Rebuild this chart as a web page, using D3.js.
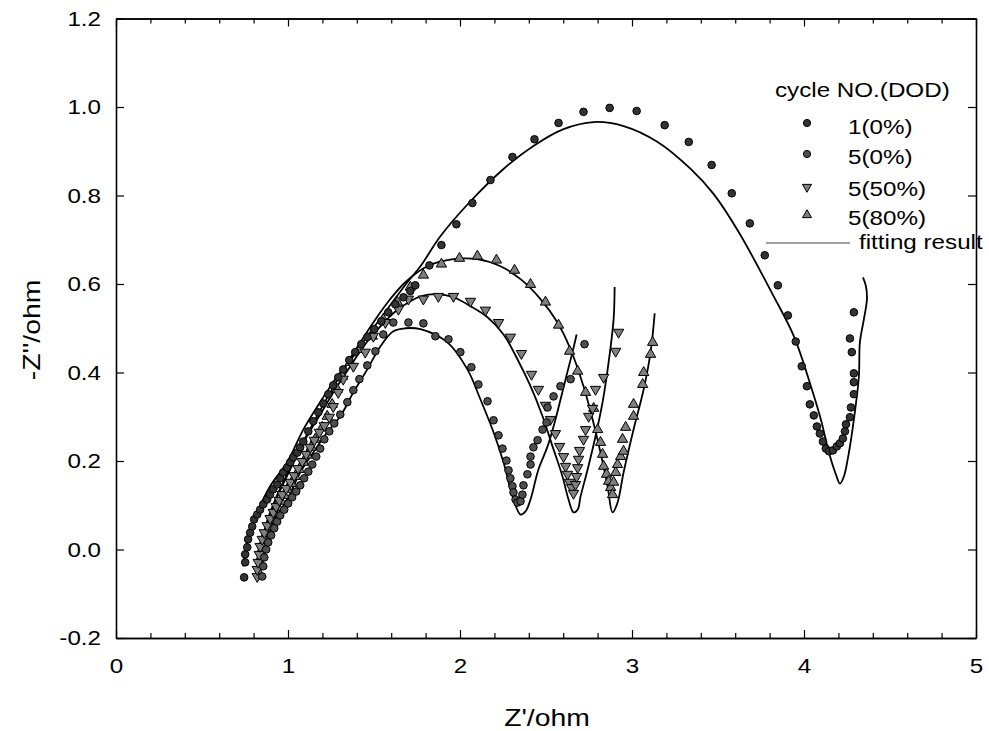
<!DOCTYPE html>
<html><head><meta charset="utf-8">
<script src="https://cdn.jsdelivr.net/npm/d3@7"></script>
<style>body{margin:0;background:#fff} text{font-family:"Liberation Sans",Arial,Helvetica,sans-serif;font-size:20.5px;fill:#000}</style>
</head><body><svg id="c" width="989" height="731"></svg>
<script>
// ---------- data ----------
const xTickValues = [0, 1, 2, 3, 4, 5];
const yTickValues = [-0.2, 0.0, 0.2, 0.4, 0.6, 0.8, 1.0, 1.2];
const xTickLabels = ["0", "1", "2", "3", "4", "5"];
const yTickLabels = ["-0.2", "0.0", "0.2", "0.4", "0.6", "0.8", "1.0", "1.2"];
const seriesNames = ["1(0%)", "5(0%)", "5(50%)", "5(80%)"];

const c1_0 = [[0.745,-0.063],[0.751,-0.029],[0.751,-0.011],[0.763,0.005],[0.768,0.023],[0.780,0.038],[0.792,0.052],[0.803,0.068],[0.821,0.079],[0.838,0.090],[0.856,0.102],[0.879,0.113],[0.896,0.124],[0.914,0.136],[0.937,0.147],[0.955,0.161],[0.972,0.174],[0.995,0.185],[1.013,0.197],[1.030,0.208],[1.054,0.219],[1.071,0.231],[1.089,0.244],[1.118,0.267],[1.147,0.290],[1.176,0.310],[1.205,0.330],[1.234,0.351],[1.263,0.371],[1.292,0.389],[1.321,0.407],[1.356,0.428],[1.391,0.446],[1.426,0.464],[1.461,0.480],[1.502,0.498],[1.543,0.516],[1.583,0.536],[1.624,0.554],[1.671,0.570],[1.711,0.584],[1.740,0.597],[1.822,0.642],[1.892,0.688],[1.979,0.735],[2.072,0.783],[2.177,0.835],[2.305,0.887],[2.433,0.927],[2.573,0.964],[2.718,0.989],[2.870,0.998],[3.027,0.991],[3.190,0.959],[3.330,0.921],[3.463,0.869],[3.580,0.805],[3.685,0.737],[3.772,0.665],[3.848,0.597],[3.906,0.529],[3.952,0.470],[3.987,0.414],[4.017,0.369],[4.034,0.328],[4.057,0.303],[4.075,0.278],[4.092,0.262],[4.110,0.244],[4.127,0.228],[4.145,0.222],[4.168,0.224],[4.191,0.233],[4.209,0.240],[4.226,0.251],[4.238,0.267],[4.244,0.283],[4.267,0.299],[4.273,0.321],[4.290,0.351],[4.290,0.378],[4.290,0.398],[4.278,0.446],[4.267,0.477],[4.290,0.536]];

const c5_0 = [[0.850,-0.061],[0.856,-0.038],[0.862,-0.018],[0.873,0.000],[0.885,0.016],[0.902,0.032],[0.920,0.048],[0.937,0.063],[0.955,0.077],[0.978,0.090],[1.001,0.104],[1.024,0.118],[1.048,0.131],[1.071,0.145],[1.094,0.161],[1.118,0.176],[1.141,0.192],[1.164,0.210],[1.187,0.228],[1.211,0.249],[1.240,0.267],[1.269,0.285],[1.304,0.305],[1.345,0.333],[1.380,0.360],[1.415,0.385],[1.461,0.416],[1.508,0.448],[1.554,0.486],[1.612,0.513],[1.700,0.513],[1.787,0.511],[1.857,0.482],[1.933,0.475],[2.002,0.446],[2.066,0.412],[2.107,0.373],[2.160,0.335],[2.195,0.292],[2.224,0.258],[2.247,0.228],[2.270,0.201],[2.282,0.179],[2.293,0.161],[2.305,0.143],[2.311,0.129],[2.323,0.113],[2.334,0.106],[2.352,0.109],[2.363,0.124],[2.369,0.145],[2.392,0.170],[2.410,0.192],[2.410,0.210],[2.427,0.231],[2.451,0.247],[2.480,0.271],[2.503,0.287],[2.509,0.321],[2.544,0.346],[2.584,0.369],[2.643,0.385],[2.724,0.464]];

const c5_50 = [[0.821,-0.061],[0.821,-0.045],[0.827,-0.029],[0.833,-0.011],[0.838,0.007],[0.850,0.023],[0.862,0.038],[0.879,0.054],[0.896,0.070],[0.914,0.084],[0.931,0.097],[0.949,0.111],[0.966,0.124],[0.990,0.138],[1.013,0.152],[1.036,0.167],[1.059,0.183],[1.083,0.199],[1.106,0.215],[1.129,0.231],[1.153,0.247],[1.182,0.265],[1.211,0.280],[1.240,0.299],[1.263,0.323],[1.292,0.355],[1.321,0.385],[1.380,0.414],[1.449,0.446],[1.496,0.482],[1.566,0.513],[1.642,0.543],[1.700,0.566],[1.787,0.566],[1.874,0.572],[1.962,0.572],[2.061,0.561],[2.148,0.541],[2.224,0.513],[2.293,0.480],[2.357,0.443],[2.416,0.396],[2.456,0.362],[2.497,0.326],[2.526,0.294],[2.555,0.262],[2.579,0.233],[2.602,0.210],[2.614,0.188],[2.625,0.170],[2.637,0.152],[2.649,0.140],[2.660,0.127],[2.672,0.147],[2.678,0.165],[2.684,0.185],[2.689,0.204],[2.695,0.224],[2.718,0.249],[2.730,0.271],[2.748,0.301],[2.771,0.319],[2.788,0.362],[2.835,0.389],[2.905,0.448],[2.922,0.491]];

const c5_80 = [[0.838,-0.057],[0.838,-0.036],[0.844,-0.016],[0.850,0.002],[0.862,0.020],[0.873,0.036],[0.891,0.052],[0.908,0.068],[0.926,0.081],[0.943,0.095],[0.960,0.109],[0.978,0.122],[0.995,0.136],[1.019,0.149],[1.042,0.165],[1.065,0.181],[1.089,0.197],[1.112,0.213],[1.135,0.231],[1.158,0.249],[1.199,0.276],[1.228,0.301],[1.257,0.328],[1.286,0.362],[1.316,0.391],[1.362,0.423],[1.420,0.452],[1.490,0.482],[1.554,0.520],[1.636,0.559],[1.711,0.593],[1.787,0.620],[1.892,0.645],[1.997,0.658],[2.101,0.663],[2.212,0.654],[2.317,0.631],[2.410,0.599],[2.497,0.559],[2.573,0.507],[2.637,0.448],[2.684,0.403],[2.730,0.355],[2.777,0.319],[2.800,0.271],[2.817,0.242],[2.829,0.215],[2.835,0.188],[2.852,0.170],[2.864,0.154],[2.876,0.140],[2.887,0.124],[2.893,0.152],[2.905,0.174],[2.916,0.192],[2.934,0.210],[2.951,0.222],[2.945,0.249],[2.963,0.276],[3.009,0.301],[3.009,0.328],[3.062,0.373],[3.068,0.400],[3.108,0.441],[3.120,0.468]];

const fit1_0 = [[0.739,-0.038],[0.751,-0.007],[0.768,0.029],[0.821,0.084],[0.896,0.143],[0.995,0.197],[1.089,0.271],[1.187,0.333],[1.286,0.391],[1.380,0.437],[1.461,0.482],[1.577,0.543],[1.694,0.604],[1.770,0.640],[1.886,0.708],[2.061,0.787],[2.253,0.860],[2.427,0.912],[2.602,0.950],[2.777,0.966],[2.951,0.957],[3.149,0.921],[3.341,0.860],[3.475,0.803],[3.621,0.717],[3.824,0.572],[3.941,0.482],[4.040,0.369],[4.098,0.294],[4.145,0.219],[4.185,0.170],[4.209,0.149],[4.232,0.165],[4.261,0.219],[4.290,0.294],[4.319,0.391],[4.325,0.468],[4.348,0.520],[4.366,0.566],[4.360,0.595],[4.343,0.615]];

const fit5_0 = [[0.838,-0.052],[0.856,-0.023],[0.879,0.016],[0.914,0.061],[0.995,0.113],[1.071,0.174],[1.147,0.219],[1.228,0.265],[1.304,0.301],[1.380,0.355],[1.461,0.407],[1.537,0.459],[1.612,0.493],[1.682,0.500],[1.770,0.498],[1.927,0.468],[2.043,0.407],[2.119,0.339],[2.195,0.265],[2.253,0.197],[2.311,0.113],[2.352,0.079],[2.381,0.086],[2.410,0.113],[2.456,0.181],[2.509,0.233],[2.555,0.294],[2.614,0.385],[2.654,0.446],[2.678,0.486]];

const fit5_50 = [[0.827,-0.057],[0.833,-0.034],[0.850,0.011],[0.885,0.068],[0.943,0.124],[1.013,0.181],[1.100,0.249],[1.187,0.305],[1.275,0.362],[1.362,0.414],[1.449,0.464],[1.537,0.504],[1.624,0.538],[1.711,0.561],[1.770,0.572],[1.869,0.577],[1.962,0.570],[2.061,0.550],[2.160,0.525],[2.253,0.486],[2.334,0.430],[2.410,0.369],[2.480,0.301],[2.538,0.233],[2.596,0.165],[2.631,0.113],[2.660,0.084],[2.684,0.090],[2.701,0.120],[2.742,0.181],[2.788,0.256],[2.829,0.333],[2.864,0.423],[2.893,0.520],[2.899,0.593]];

const fit5_80 = [[0.827,-0.045],[0.844,0.000],[0.873,0.057],[0.926,0.113],[0.995,0.170],[1.071,0.231],[1.158,0.294],[1.246,0.355],[1.333,0.414],[1.420,0.468],[1.508,0.520],[1.595,0.566],[1.682,0.604],[1.810,0.640],[1.962,0.656],[2.101,0.656],[2.235,0.640],[2.352,0.611],[2.468,0.566],[2.567,0.513],[2.643,0.452],[2.718,0.369],[2.771,0.294],[2.817,0.219],[2.858,0.143],[2.887,0.084],[2.916,0.106],[2.951,0.174],[3.009,0.271],[3.068,0.362],[3.108,0.446],[3.132,0.534]];

// ---------- drawing ----------
const svg = d3.select("#c");
const L = 116, R = 976, T = 18.5, B = 638;
const x = d3.scaleLinear().domain([0, 5]).range([L, R]);
const y = d3.scaleLinear().domain([-0.2, 1.2]).range([B, T]);
const xMinor = d3.range(0, 26).map(i => i * 0.2).filter(v => Math.abs(v - Math.round(v)) > 1e-6);

function styleAxis(g) {
  g.select(".domain").attr("stroke", "#000").attr("stroke-width", 1.6);
  g.selectAll(".tick line").attr("stroke", "#000").attr("stroke-width", 1.2);
  g.attr("font-family", null).attr("font-size", null);
}

// bottom
svg.append("g").attr("transform", `translate(0,${B})`)
  .call(d3.axisBottom(x).tickValues(xMinor).tickSize(-5).tickSizeOuter(0).tickFormat(""))
  .call(styleAxis);
svg.append("g").attr("transform", `translate(0,${B})`)
  .call(d3.axisBottom(x).tickValues(xTickValues).tickSize(-8).tickSizeOuter(0).tickPadding(20)
    .tickFormat((d, i) => xTickLabels[i]))
  .call(styleAxis);
// top
svg.append("g").attr("transform", `translate(0,${T})`)
  .call(d3.axisTop(x).tickValues(xMinor).tickSize(-5).tickSizeOuter(0).tickFormat(""))
  .call(styleAxis);
svg.append("g").attr("transform", `translate(0,${T})`)
  .call(d3.axisTop(x).tickValues(xTickValues).tickSize(-8).tickSizeOuter(0).tickFormat(""))
  .call(styleAxis);
// left
svg.append("g").attr("transform", `translate(${L},0)`)
  .call(d3.axisLeft(y).tickValues(yTickValues).tickSize(-8).tickSizeOuter(0).tickPadding(15)
    .tickFormat((d, i) => yTickLabels[i]))
  .call(styleAxis);
// right
svg.append("g").attr("transform", `translate(${R},0)`)
  .call(d3.axisRight(y).tickValues(yTickValues).tickSize(-8).tickSizeOuter(0).tickFormat(""))
  .call(styleAxis);

// axis titles
svg.append("text").attr("x", 547).attr("y", 726).style("font-size", "24px")
  .attr("text-anchor", "middle").text("Z'/ohm");
svg.append("text").attr("transform", "translate(40,330) rotate(-90)").style("font-size", "24px")
  .attr("text-anchor", "middle").text("-Z''/ohm");

// fit lines
const line = d3.line().x(d => x(d[0])).y(d => y(d[1])).curve(d3.curveCatmullRom.alpha(0.5));
[fit1_0, fit5_0, fit5_50, fit5_80].forEach(f => {
  svg.append("path").datum(f).attr("d", line)
    .attr("fill", "none").attr("stroke", "#000").attr("stroke-width", 1.8);
});

// markers
const triUp = d3.symbol().type(d3.symbolTriangle).size(46)();
function drawCircles(data, fill) {
  svg.append("g").selectAll("circle").data(data).join("circle")
    .attr("cx", d => x(d[0])).attr("cy", d => y(d[1])).attr("r", 3.8)
    .attr("fill", fill).attr("stroke", "#000").attr("stroke-width", 1);
}
function drawTris(data, rot) {
  svg.append("g").selectAll("path").data(data).join("path")
    .attr("d", triUp)
    .attr("transform", d => `translate(${x(d[0])},${y(d[1])}) rotate(${rot})`)
    .attr("fill", "#7f7f7f").attr("stroke", "#000").attr("stroke-width", 1);
}
drawTris(c5_80, 0);
drawTris(c5_50, 180);
drawCircles(c5_0, "#4e4e4e");
drawCircles(c1_0, "#333333");

// legend
const lg = svg.append("g");
lg.append("text").attr("x", 775).attr("y", 97).text("cycle NO.(DOD)");
const legY = [123, 154, 187, 215];
const legBase = [134, 164, 196, 225];
lg.append("circle").attr("cx", 807).attr("cy", legY[0]).attr("r", 3.6).attr("fill", "#333").attr("stroke", "#000");
lg.append("circle").attr("cx", 807).attr("cy", legY[1]).attr("r", 3.6).attr("fill", "#4e4e4e").attr("stroke", "#000");
lg.append("path").attr("d", d3.symbol().type(d3.symbolTriangle).size(36)())
  .attr("transform", `translate(807,${legY[2]}) rotate(180)`).attr("fill", "#7f7f7f").attr("stroke", "#000");
lg.append("path").attr("d", d3.symbol().type(d3.symbolTriangle).size(36)())
  .attr("transform", `translate(807,${legY[3]})`).attr("fill", "#7f7f7f").attr("stroke", "#000");
seriesNames.forEach((n, i) => {
  lg.append("text").attr("x", 848).attr("y", legBase[i]).text(n);
});
lg.append("line").attr("x1", 766).attr("x2", 850).attr("y1", 243).attr("y2", 243)
  .attr("stroke", "#444").attr("stroke-width", 1.2);
lg.append("text").attr("x", 859).attr("y", 249).text("fitting result");

// widen glyphs to match the reference's text proportions
svg.selectAll("text").each(function () {
  const w = this.getComputedTextLength();
  if (w > 0) d3.select(this).attr("textLength", w * 1.18).attr("lengthAdjust", "spacingAndGlyphs");
});
</script></body></html>
